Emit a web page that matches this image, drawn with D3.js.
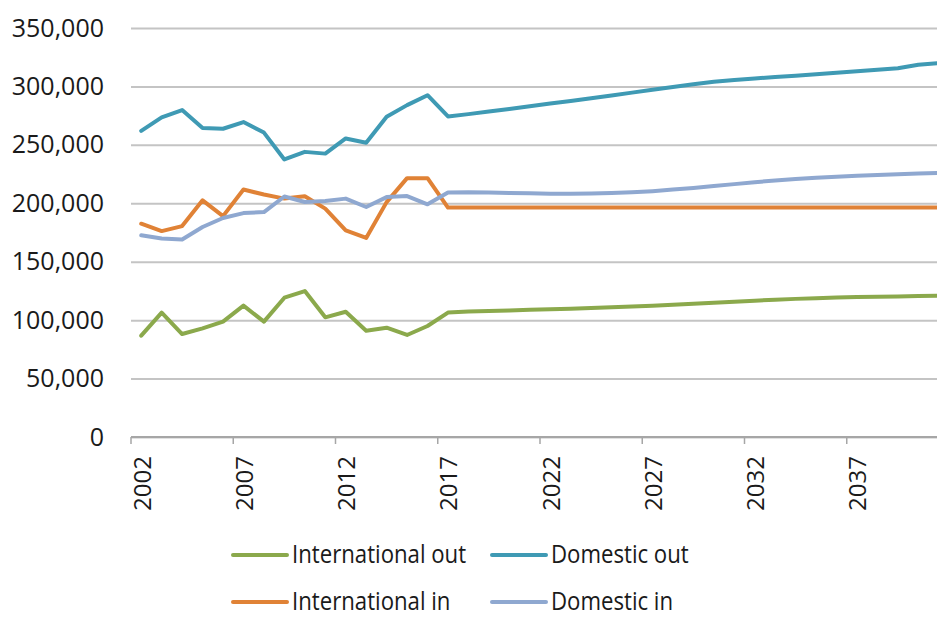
<!DOCTYPE html>
<html>
<head>
<meta charset="utf-8">
<script src="https://cdn.jsdelivr.net/npm/d3@7"></script>
<style>
  html, body { margin: 0; padding: 0; background: #fff; }
  svg { display: block; font-family: "Open Sans", "Noto Sans", sans-serif; }
</style>
</head>
<body>
<svg id="chart" width="937" height="617"></svg>
<script>
/// data ///
const years = d3.range(2002, 2042);
const yTicks = [0, 50000, 100000, 150000, 200000, 250000, 300000, 350000];
const xTickYears = [2002, 2007, 2012, 2017, 2022, 2027, 2032, 2037];

const internationalOut = [
  86700, 106400, 88100, 93000, 98700, 112400, 98700, 119200, 124900, 102400,
  107200, 91000, 93500, 87300, 95000, 106500, 107300, 107800, 108300, 108800,
  109300, 109800, 110400, 111000, 111700, 112400, 113200, 114000, 114900, 115800,
  116700, 117500, 118200, 118800, 119300, 119700, 120000, 120300, 120600, 120900
];
const domesticOut = [
  262000, 273500, 279800, 264500, 263800, 269500, 260500, 237500, 244000, 242500,
  255500, 251800, 274000, 284000, 292500, 274300, 276300, 278500, 280700, 283000,
  285300, 287600, 289900, 292300, 294700, 297100, 299500, 301900, 304000, 305600,
  306800, 308000, 309200, 310500, 311700, 312900, 314200, 315500, 318500, 320000
];
const internationalIn = [
  182500, 176200, 180500, 202500, 189000, 211800, 207500, 204000, 206000, 195400,
  176800, 170300, 201000, 221500, 221500, 196300, 196300, 196300, 196300, 196300,
  196300, 196300, 196300, 196300, 196300, 196300, 196300, 196300, 196300, 196300,
  196300, 196300, 196300, 196300, 196300, 196300, 196300, 196300, 196300, 196300
];
const domesticIn = [
  172600, 169800, 169000, 179700, 187400, 191600, 192500, 205800, 201100, 201900,
  204000, 196800, 205300, 206200, 199100, 209200, 209500, 209200, 208900, 208500,
  208200, 208100, 208300, 208700, 209400, 210400, 211700, 213100, 214700, 216400,
  218100, 219500, 220800, 221900, 222800, 223600, 224300, 224900, 225500, 226000
];

const seriesNames = ["International out", "Domestic out", "International in", "Domestic in"];
const seriesValues = [internationalOut, domesticOut, internationalIn, domesticIn];
const seriesColours = ["#8BA94C", "#3F9AB4", "#E08236", "#8FA8D0"];

/// dimensions ///
const plotLeft = 131;
const plotTop = 28;
const plotBottom = 437;
const bandWidth = 20.45;
const plotRight = plotLeft + bandWidth * years.length;
const textColour = "#1a1a1a";
const gridColour = "#c4c4c4";

const svg = d3.select("#chart");

/// scales ///
const xScale = d3.scaleBand()
  .domain(years)
  .range([plotLeft, plotRight])
  .padding(0);

const yScale = d3.scaleLinear()
  .domain([0, 350000])
  .range([plotBottom, plotTop]);

const xMid = yr => xScale(yr) + xScale.bandwidth() / 2;

/// y axis: gridlines + labels ///
const yAxis = d3.axisLeft(yScale)
  .tickValues(yTicks)
  .tickFormat(d3.format(","))
  .tickSize(-(plotRight - plotLeft))
  .tickPadding(27);

svg.append("g")
  .attr("transform", `translate(${plotLeft},0)`)
  .call(yAxis)
  .call(g => g.select(".domain").remove())
  .call(g => g.selectAll(".tick line")
    .attr("stroke", gridColour)
    .attr("stroke-width", 2))
  .call(g => g.selectAll(".tick text")
    .attr("fill", textColour)
    .attr("font-size", "25px")
    .attr("font-family", "Open Sans, sans-serif"));

/// x axis ///
const xAxisG = svg.append("g")
  .attr("transform", `translate(0,${plotBottom})`);

xAxisG.append("line")
  .attr("x1", plotLeft).attr("x2", plotRight)
  .attr("y1", 0).attr("y2", 0)
  .attr("stroke", "#a6a6a6")
  .attr("stroke-width", 2);

xAxisG.selectAll(".x-tick")
  .data(xTickYears)
  .join("line")
  .classed("x-tick", true)
  .attr("x1", d => xScale(d)).attr("x2", d => xScale(d))
  .attr("y1", 0).attr("y2", 7)
  .attr("stroke", "#a6a6a6")
  .attr("stroke-width", 1.5);

xAxisG.selectAll(".x-label")
  .data(xTickYears)
  .join("text")
  .classed("x-label", true)
  .attr("transform", d => `translate(${xMid(d) + 1},19) rotate(-90)`)
  .attr("text-anchor", "end")
  .attr("dy", "0.35em")
  .attr("fill", textColour)
  .attr("font-size", "24px")
  .text(d => d);

/// lines ///
const line = d3.line()
  .x((d, i) => xMid(years[i]))
  .y(d => yScale(d));

svg.append("g")
  .selectAll(".series")
  .data(seriesValues)
  .join("path")
  .classed("series", true)
  .attr("d", d => line(d))
  .attr("fill", "none")
  .attr("stroke", (d, i) => seriesColours[i])
  .attr("stroke-width", 4)
  .attr("stroke-linejoin", "round")
  .attr("stroke-linecap", "round");

/// legend ///
const legendPos = [
  { x: 233, y: 555 },
  { x: 492, y: 555 },
  { x: 233, y: 602 },
  { x: 492, y: 602 }
];

const legend = svg.append("g")
  .selectAll(".legend-item")
  .data(seriesNames)
  .join("g")
  .classed("legend-item", true)
  .attr("transform", (d, i) => `translate(${legendPos[i].x},${legendPos[i].y})`);

legend.append("line")
  .attr("x1", 0).attr("x2", 54)
  .attr("y1", 0).attr("y2", 0)
  .attr("stroke", (d, i) => seriesColours[i])
  .attr("stroke-width", 4)
  .attr("stroke-linecap", "round");

legend.append("text")
  .attr("transform", "translate(59,0) scale(0.87,1)")
  .attr("dy", "0.33em")
  .attr("fill", textColour)
  .attr("font-size", "25.5px")
  .text(d => d);
</script>
</body>
</html>
